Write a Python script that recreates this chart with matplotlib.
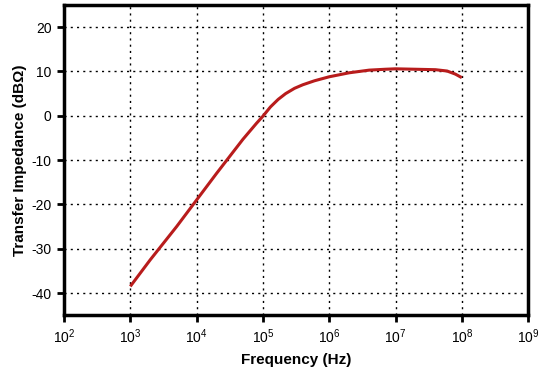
import matplotlib
matplotlib.use("Agg")
import matplotlib.pyplot as plt
from matplotlib.ticker import LogLocator, NullLocator

plt.rcParams['font.family'] = ['Liberation Sans', 'DejaVu Sans']
plt.rcParams['axes.unicode_minus'] = False

# дані
freq = [1e3, 2e3, 5e3, 1e4, 2e4, 5e4, 8e4, 1e5, 1.3e5, 1.7e5, 2.2e5, 3e5, 4e5,
        6e5, 1e6, 2e6, 4e6, 7e6, 1e7, 2e7, 4e7, 6e7, 8e7, 1e8]
impedance_db = [-38.5, -32.5, -25.0, -19.0, -13.0, -5.3, -1.7, -0.1, 2.0, 3.7, 5.0, 6.2, 7.0,
                7.9, 8.8, 9.7, 10.3, 10.5, 10.6, 10.5, 10.4, 10.1, 9.4, 8.6]

fig = plt.figure(figsize=(5.4, 3.73), dpi=100)
ax = fig.add_axes([0.1185, 0.155, 0.8595, 0.8316])

ax.plot(freq, impedance_db, color='#b81c1c', lw=2.2, solid_capstyle='butt')

ax.set_xscale('log')
ax.set_xlim(1e2, 1e9)
ax.set_ylim(-45, 25)
ax.xaxis.set_major_locator(LogLocator(base=10, numticks=20))
ax.xaxis.set_minor_locator(NullLocator())
ax.set_yticks([-40, -30, -20, -10, 0, 10, 20])

# пунктирна сітка
for x in [1e3, 1e4, 1e5, 1e6, 1e7, 1e8]:
    ax.axvline(x, color='black', lw=1, ls=(0, (1.5, 3)), zorder=0)
for y in [-40, -30, -20, -10, 0, 10, 20]:
    ax.axhline(y, color='black', lw=1, ls=(0, (1.5, 3)), zorder=0)

for s in ax.spines.values():
    s.set_linewidth(2.5)
ax.tick_params(axis='both', direction='out', length=5, width=2, labelsize=10, pad=4)

ax.set_xlabel('Frequency (Hz)', fontsize=11, fontweight='bold', labelpad=5)
ax.set_ylabel('Transfer Impedance (dBΩ)', fontsize=11, fontweight='bold', labelpad=3)

fig.savefig('out.png', dpi=100)
